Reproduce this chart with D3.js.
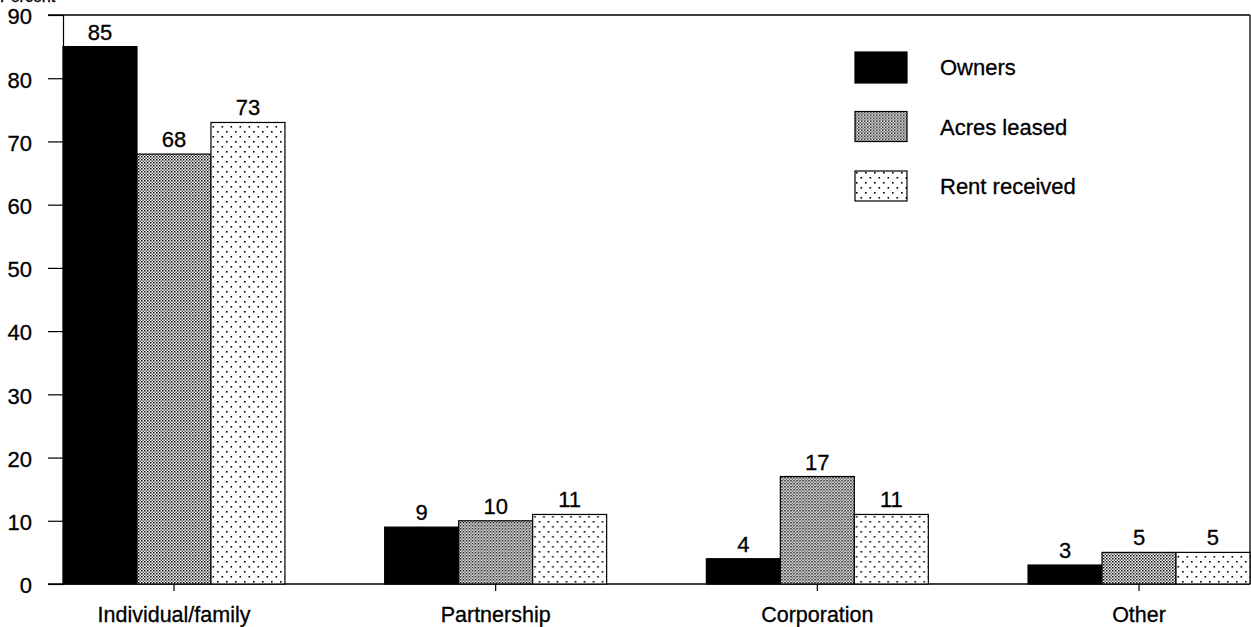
<!DOCTYPE html>
<html><head><meta charset="utf-8">
<script src="https://cdn.jsdelivr.net/npm/d3@7"></script>
<style>
html,body{margin:0;padding:0;background:#fff;}
svg{display:block;font-family:"Liberation Sans",Arial,Helvetica,sans-serif;}
</style></head>
<body><svg id="chart" width="1251" height="627"></svg>
<script>
const categories = ["Individual/family", "Partnership", "Corporation", "Other"];
const seriesNames = ["Owners", "Acres leased", "Rent received"];
const owners = [85, 9, 4, 3];
const acresLeased = [68, 10, 17, 5];
const rentReceived = [73, 11, 11, 5];
const yTicks = [0, 10, 20, 30, 40, 50, 60, 70, 80, 90];
const yLabel = "Percent";

const seriesValues = [owners, acresLeased, rentReceived];
const data = categories.map((c, i) => ({cat: c, vals: seriesNames.map((s, j) => ({s, v: seriesValues[j][i]}))}));

const svg = d3.select("#chart");
const defs = svg.append("defs");
// dense halftone
const p1 = defs.append("pattern").attr("id","dense").attr("patternUnits","userSpaceOnUse").attr("width",3).attr("height",3);
p1.append("rect").attr("width",3).attr("height",3).attr("fill","#fff");
p1.append("rect").attr("x",0).attr("y",0).attr("width",1.5).attr("height",1.5).attr("fill","#000");
p1.append("rect").attr("x",1.5).attr("y",1.5).attr("width",1.5).attr("height",1.5).attr("fill","#555");
// sparse dots
const p2 = defs.append("pattern").attr("id","sparse").attr("patternUnits","userSpaceOnUse").attr("width",9).attr("height",10);
p2.append("rect").attr("width",9).attr("height",10).attr("fill","#fff");
p2.append("rect").attr("x",1).attr("y",1).attr("width",1.6).attr("height",1.6).attr("fill","#000");
p2.append("rect").attr("x",5.5).attr("y",6).attr("width",1.6).attr("height",1.6).attr("fill","#000");
const fills = {"Owners":"#000","Acres leased":"url(#dense)","Rent received":"url(#sparse)"};

const mLeft = 63, mRight = 1250, mTop = 15, mBottom = 584;
const y = d3.scaleLinear().domain([0, 90]).range([mBottom, mTop]);
const x0 = d3.scaleBand().domain(categories).range([mLeft, mRight]).paddingInner(0.31).paddingOuter(0);
const x1 = d3.scaleBand().domain(seriesNames).range([0, x0.bandwidth()]);

const txt = sel => sel.attr("fill","#000").attr("stroke","#000").attr("stroke-width",0.3).attr("font-family","Liberation Sans, Arial, sans-serif");

// frame
svg.append("line").attr("x1",48).attr("x2",mRight).attr("y1",mTop).attr("y2",mTop).attr("stroke","#000").attr("stroke-width",1.3);
svg.append("line").attr("x1",mRight).attr("x2",mRight).attr("y1",mTop).attr("y2",mBottom).attr("stroke","#000").attr("stroke-width",1.3);

// y axis
const yAxis = d3.axisLeft(y).tickValues(yTicks).tickSize(15).tickPadding(16).tickFormat(d3.format("d"));
const ya = svg.append("g").attr("transform",`translate(${mLeft},0)`).call(yAxis);
ya.select(".domain").attr("stroke","#000").attr("stroke-width",1.2);
ya.selectAll(".tick line").attr("stroke","#000").attr("stroke-width",1.2);
ya.selectAll(".tick text").attr("font-size",22).attr("dy","0.4em").call(txt);

// x axis
const xAxis = d3.axisBottom(x0).tickSize(7).tickPadding(16);
const xa = svg.append("g").attr("transform",`translate(0,${mBottom})`).call(xAxis);
xa.select(".domain").remove();
svg.append("line").attr("x1",48).attr("x2",mRight).attr("y1",mBottom).attr("y2",mBottom).attr("stroke","#000").attr("stroke-width",1.3);
xa.selectAll(".tick line").attr("stroke","#000").attr("stroke-width",1.2);
xa.selectAll(".tick text").attr("font-size",21.5).call(txt);

// Percent label (cut off at top, as in the reference)
svg.append("text").attr("x",0).attr("y",2).attr("font-size",16).call(txt).text(yLabel);

// bars
const groups = svg.append("g").selectAll("g").data(data).join("g").attr("transform", d => `translate(${x0(d.cat)},0)`);
groups.selectAll("rect").data(d => d.vals).join("rect")
  .attr("x", d => x1(d.s)).attr("width", x1.bandwidth())
  .attr("y", d => y(d.v)).attr("height", d => y(0) - y(d.v))
  .attr("fill", d => fills[d.s]).attr("stroke","#000").attr("stroke-width",1.2);
groups.selectAll("text").data(d => d.vals).join("text")
  .attr("x", d => x1(d.s) + x1.bandwidth()/2).attr("y", d => y(d.v) - 7)
  .attr("text-anchor","middle").attr("font-size",22).call(txt).text(d => d.v);

// legend
const legY = d3.scalePoint().domain(seriesNames).range([52, 171]);
const leg = svg.append("g").selectAll("g").data(seriesNames).join("g").attr("transform", d => `translate(855,${legY(d)})`);
leg.append("rect").attr("width",52).attr("height",d => d === "Owners" ? 31 : 30).attr("fill", d => fills[d]).attr("stroke","#000").attr("stroke-width",1.2);
leg.append("text").attr("x",85).attr("y",23).attr("font-size",22).call(txt).text(d => d);
</script></body></html>
